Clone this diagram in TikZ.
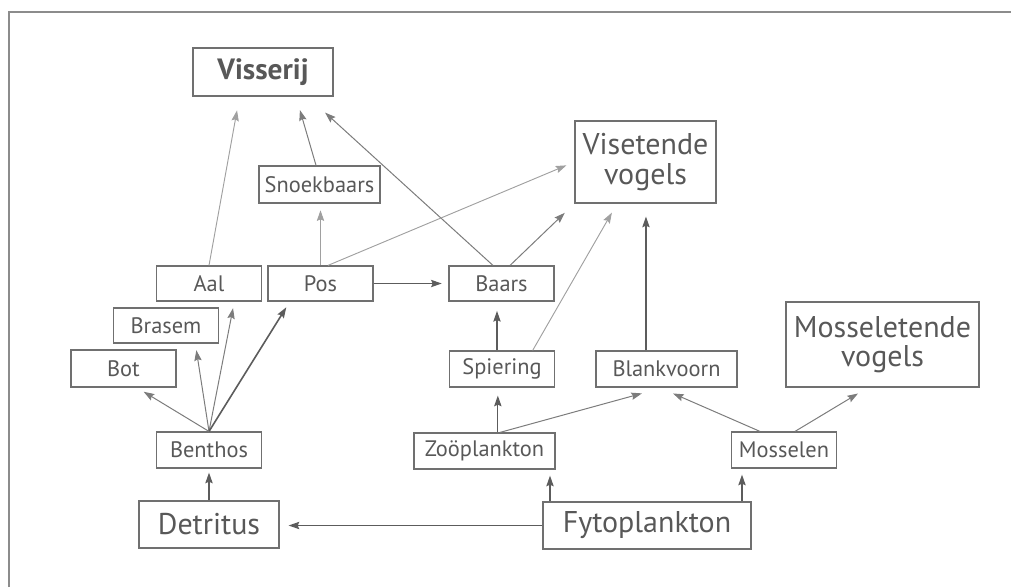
\documentclass[tikz,border=0pt]{standalone}
\usepackage{fontspec}
\setmainfont{PT Sans}
\usepackage{xcolor}
\usepackage{tikz}
\usetikzlibrary{arrows.meta}
\definecolor{inkgray}{HTML}{585858}
\definecolor{framegray}{HTML}{8C8C8C}
\definecolor{boxgray}{HTML}{707070}
\definecolor{darkline}{HTML}{5C5C5C}
\definecolor{midline}{HTML}{7C7C7C}
\definecolor{lightline}{HTML}{A0A0A0}

\begin{document}
\begin{tikzpicture}[
    x=0.75pt, y=-0.75pt,
    box/.style={draw=boxgray, line width=0.9pt, inner sep=0pt, minimum width=78.75pt, minimum height=27pt, align=center, text=inkgray, font=\fontsize{16.8}{18}\selectfont},
    widebox/.style={box, minimum width=105.75pt},
    bigbox/.style={box, font=\fontsize{22.5}{22}\selectfont},
    arr/.style={-{Stealth[length=8pt,width=5.5pt,inset=1.2pt]}, darkline, line width=0.9pt},
    midarr/.style={arr, midline, line width=0.75pt},
    lightarr/.style={arr, lightline, line width=0.7pt}
]
\useasboundingbox (0,0) rectangle (1011,587);
\draw[framegray, line width=1.1pt] (9,587) -- (9,12) -- (1011,12);

\node[box, minimum width=105pt, minimum height=36pt, font=\bfseries\fontsize{22}{22}\selectfont] (visserij) at (263,72) {Visserij};
\node[box, minimum width=90.75pt, minimum height=27.75pt] (snoek) at (319.5,184.5) {Snoekbaars};
\node[bigbox, minimum width=105.75pt, minimum height=61.5pt] (visvog) at (645.5,162) {Visetende\\vogels};
\node[box, minimum height=26.25pt] (aal) at (209,283.5) {Aal};
\node[box, minimum height=26.25pt] (pos) at (320.5,283.5) {Pos};
\node[box, minimum height=26.25pt] (baars) at (501.5,283.5) {Baars};
\node[box, minimum height=26.25pt] (brasem) at (166,325.5) {Brasem};
\node[box, minimum height=27.75pt] (bot) at (123.5,368.5) {Bot};
\node[box] (benthos) at (209,450) {Benthos};
\node[bigbox, minimum width=105pt, minimum height=35.25pt] (detritus) at (209,524.5) {Detritus};
\node[box] (spiering) at (502,369) {Spiering};
\node[widebox] (zoo) at (484.5,451) {Zoöplankton};
\node[widebox] (blank) at (666.5,369) {Blankvoorn};
\node[box] (mossel) at (784,450) {Mosselen};
\node[bigbox, minimum width=144.75pt, minimum height=63.75pt] (mosvog) at (882.5,344.5) {Mosseletende\\vogels};
\node[bigbox, minimum width=156pt, minimum height=35.25pt] (fyto) at (647,525.5) {Fytoplankton};

\coordinate (bv) at ([xshift=-15.4pt]blank.north);
\coordinate (sp) at ([xshift=-3.75pt]spiering.north);
\coordinate (zs) at ([xshift=10pt]zoo.north);
\coordinate (fz) at ([xshift=-72.75pt]fyto.north);
\coordinate (fm) at ([xshift=71.25pt]fyto.north);

\draw[arr, shorten >=3pt] (detritus) -- (benthos);
\draw[midarr, shorten >=6pt] (benthos.north) -- ([xshift=10pt]bot.south);
\draw[midarr, shorten >=5pt] (benthos.north) -- ([xshift=22pt]brasem.south);
\draw[midarr, shorten >=5pt] (benthos.north) -- ([xshift=19pt]aal.south);
\draw[arr, line width=1.2pt, shorten >=5pt] (benthos.north) -- ([xshift=-23pt]pos.south);
\draw[lightarr, shorten >=10.5pt] (aal.north) -- ([xshift=-17.6pt]visserij.south);
\draw[midarr, shorten >=10.5pt] ([xshift=-2.6pt]snoek.north) -- ([xshift=24.75pt]visserij.south);
\draw[midarr, shorten >=17.8pt] ([xshift=-6.4pt]baars.north) -- ([xshift=33.4pt]visserij.south);
\draw[lightarr, shorten >=5pt] (pos.north) -- (pos.north |- snoek.south);
\draw[lightarr, shorten >=6.5pt] ([xshift=5.6pt]pos.north) -- (visvog.west);
\draw[arr, shorten >=5pt] (pos.east) -- (baars.west);
\draw[midarr, shorten >=10pt] ([xshift=6.4pt]baars.north) -- (visvog.south west);
\draw[lightarr, shorten >=7.8pt] ([xshift=23pt]spiering.north) -- ([xshift=32pt]visvog.south west);
\draw[arr, shorten >=9.75pt] (bv) -- (bv |- visvog.south);
\draw[arr, shorten >=7pt] (sp) -- (sp |- baars.south);
\draw[arr, shorten >=6pt] (zs) -- (zs |- spiering.south);
\draw[midarr, shorten >=16.4pt] ([xshift=11.6pt]zoo.north) -- ([xshift=-2.6pt]blank.south);
\draw[midarr, shorten >=11pt] ([xshift=-18pt]mossel.north) -- ([xshift=-5.2pt]blank.south);
\draw[midarr, shorten >=8.6pt] ([xshift=8.25pt]mossel.north) -- ([xshift=-11pt]mosvog.south);
\draw[arr, shorten >=4.5pt] (fz) -- (fz |- zoo.south);
\draw[arr, shorten >=4.5pt] (fm) -- (fm |- mossel.south);
\draw[arr, shorten >=6.75pt] (fyto.west) -- (fyto.west -| detritus.east);
\end{tikzpicture}
\end{document}
